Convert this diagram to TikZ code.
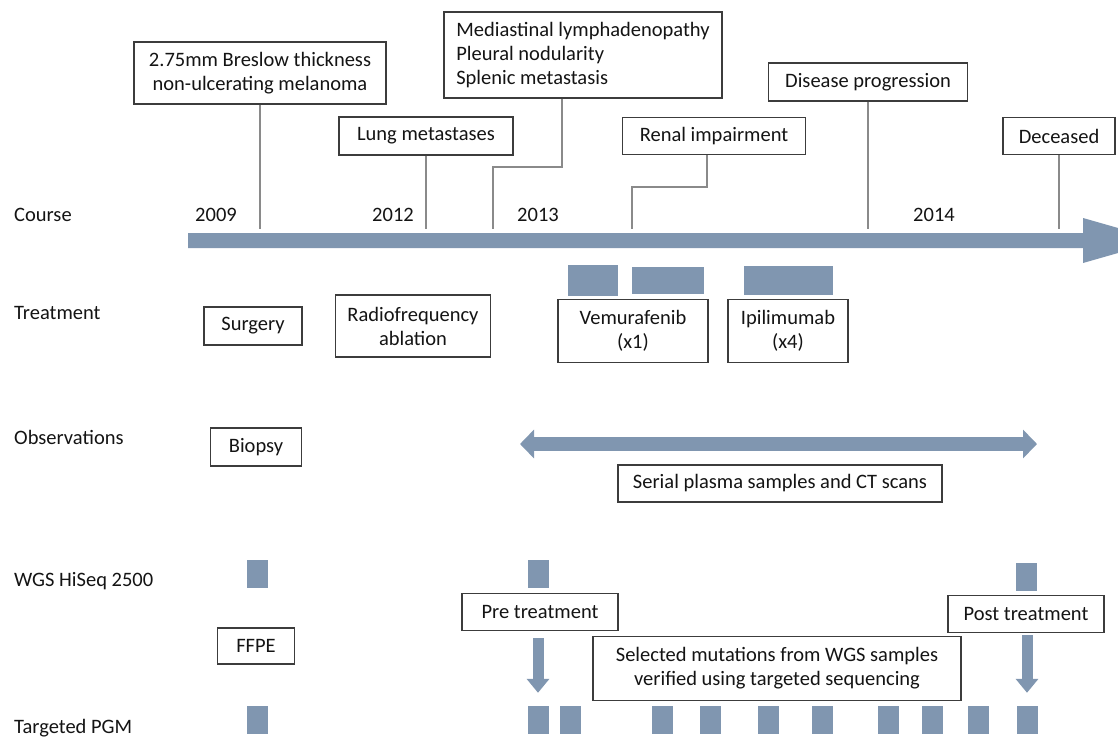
\documentclass[tikz,border=0pt]{standalone}
\usepackage{fontspec}
\setmainfont{Carlito}
\usetikzlibrary{arrows.meta}
\definecolor{bar}{HTML}{8096B0}
\definecolor{edge}{HTML}{3C3C3C}
\definecolor{connc}{HTML}{8A8A8A}
\definecolor{txt}{HTML}{141414}
\begin{document}
\begin{tikzpicture}[x=1pt,y=-1pt,
  font=\fontsize{20.5}{24}\selectfont,
  box/.style={draw=edge, line width=1.4pt, inner sep=0pt, align=center, text=txt},
  sq/.style={fill=bar, inner sep=0pt, minimum width=21pt, minimum height=28pt},
  lbl/.style={anchor=west, inner sep=0pt, text=txt},
  yr/.style={inner sep=0pt, text=txt},
  link/.style={draw=connc, line width=1.3pt},
  fatarrow/.style={draw=bar, line width=#1}]
\useasboundingbox (0,0) rectangle (1118,739);
\fill[white] (0,0) rectangle (1118,739);

% row labels
\node[lbl] (lcourse) at (14,215) {Course};
\node[lbl] (ltreat) at (14,313) {Treatment};
\node[lbl] (lobs) at (14,437) {Observations};
\node[lbl] (lwgs) at (14,581) {WGS HiSeq 2500};
\node[lbl] (lpgm) at (14,728) {Targeted PGM};

% years
\node[yr] (y2009) at (216,215) {2009};
\node[yr] (y2012) at (393,215) {2012};
\node[yr] (y2013) at (538,215) {2013};
\node[yr] (y2014) at (934,215) {2014};

% course arrow
\fill[bar] (188,233) -- (1083,233) -- (1083,218) -- (1118,228) -- (1118,253)
  -- (1083,263) -- (1083,248) -- (188,248) -- cycle;

% event boxes
\node[box, minimum width=252pt, minimum height=62pt] (breslow) at (260,73)
  {2.75mm Breslow thickness\\non-ulcerating melanoma};
\node[box, minimum width=174pt, minimum height=38pt] (lung) at (426,136) {Lung metastases};
\node[box, align=left, minimum width=278pt, minimum height=86pt] (med) at (583,55)
  {Mediastinal lymphadenopathy\\Pleural nodularity\\Splenic metastasis};
\node[box, minimum width=183pt, minimum height=37pt] (renal) at (714,136) {Renal impairment};
\node[box, minimum width=199pt, minimum height=38pt] (prog) at (868,82) {Disease progression};
\node[box, minimum width=112pt, minimum height=37pt] (dead) at (1059,136) {Deceased};

% axis points
\coordinate (a1) at (260,229);
\coordinate (a2) at (426,229);
\coordinate (a3) at (493,229);
\coordinate (a4) at (632,229);
\coordinate (a5) at (868,229);
\coordinate (a6) at (1059,229);
\coordinate (m1) at (562,167);
\coordinate (r1) at (707,187);

\draw[link] (breslow.south) -- (a1);
\draw[link] (lung.south) -- (a2);
\draw[link] (med.south -| m1) -- (m1) -| (a3);
\draw[link] (renal.south -| r1) -- (r1) -| (a4);
\draw[link] (prog.south) -- (a5);
\draw[link] (dead.south) -- (a6);

% treatment
\node[box, minimum width=98pt, minimum height=38pt] (surg) at (253,326) {Surgery};
\node[box, minimum width=155pt, minimum height=62pt] (rfa) at (413,326) {Radiofrequency\\ablation};
\node[box, minimum width=150pt, minimum height=63pt] (vem) at (633,331) {Vemurafenib\\(x1)};
\node[box, minimum width=120pt, minimum height=63pt] (ipi) at (788,331) {Ipilimumab\\(x4)};
\node[fill=bar, inner sep=0pt, minimum width=50pt, minimum height=31pt] (v1) at (593,280.5) {};
\node[fill=bar, inner sep=0pt, minimum width=72pt, minimum height=27pt] (v2) at (668,280.5) {};
\node[fill=bar, inner sep=0pt, minimum width=89pt, minimum height=29pt] (i1) at (788,280.5) {};

% observations
\node[box, minimum width=91pt, minimum height=38pt] (biopsy) at (256,447) {Biopsy};
\coordinate (s1) at (520,444);
\coordinate (s2) at (1037,444);
\draw[fatarrow=14pt, {Triangle[width=28pt,length=14pt]}-{Triangle[width=28pt,length=14pt]}] (s1) -- (s2);
\node[box, minimum width=324pt, minimum height=37pt] (serial) at (780,483.5) {Serial plasma samples and CT scans};

% WGS
\node[sq] (w1) at (257.5,574) {};
\node[sq] (w2) at (538,574) {};
\node[sq] (w3) at (1026,577) {};
\node[box, minimum width=156pt, minimum height=37pt] (pre) at (540,612) {Pre treatment};
\node[box, minimum width=156pt, minimum height=37pt] (post) at (1026,614) {Post treatment};
\node[box, minimum width=77pt, minimum height=36pt] (ffpe) at (256,646) {FFPE};
\node[box, minimum width=368pt, minimum height=64pt] (sel) at (777,668.5)
  {Selected mutations from WGS samples\\verified using targeted sequencing};

% targeted PGM
\node[sq] (t1) at (257.5,720) {};
\node[sq] (t2) at (538,720) {};
\node[sq] (t3) at (570.5,720) {};
\node[sq] (t4) at (662.5,720) {};
\node[sq] (t5) at (710,720) {};
\node[sq] (t6) at (768,720) {};
\node[sq] (t7) at (822,720) {};
\node[sq] (t8) at (888.5,720) {};
\node[sq] (t9) at (932.5,720) {};
\node[sq] (t10) at (978,720) {};
\node[sq] (t11) at (1027,720) {};

\draw[fatarrow=11pt, -{Triangle[width=22pt,length=14pt]}] ([yshift=-7pt]pre.south -| t2) -- ([yshift=13pt]t2.north);
\draw[fatarrow=11pt, -{Triangle[width=22pt,length=14pt]}] ([yshift=-2pt]post.south -| t11) -- ([yshift=13pt]t11.north);
\end{tikzpicture}
\end{document}
